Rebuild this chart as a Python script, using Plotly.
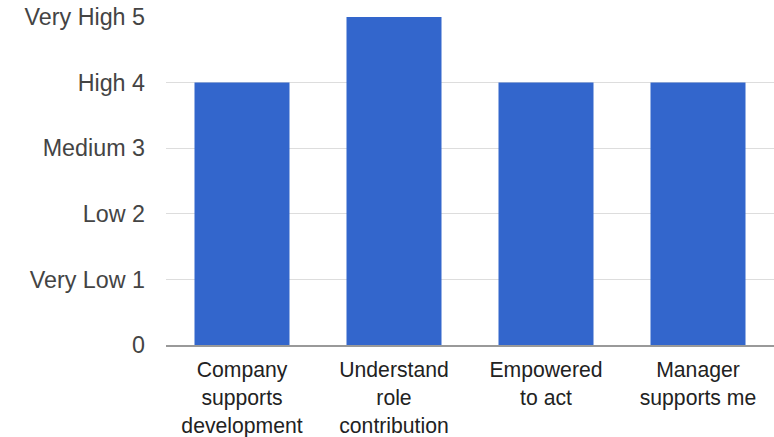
import plotly.graph_objects as go

# Survey questions and their average rating
categories = [
    "Company<br>supports<br>development",
    "Understand<br>role<br>contribution",
    "Empowered<br>to act",
    "Manager<br>supports me",
]
ratings = [4, 5, 4, 4]

# Rating scale shown on the value axis
scale_values = [0, 1, 2, 3, 4, 5]
scale_labels = ["0", "Very Low 1", "Low 2", "Medium 3", "High 4", "Very High 5"]

font_family = "Liberation Sans, Arial, sans-serif"

fig = go.Figure(
    go.Bar(
        x=categories,
        y=ratings,
        marker=dict(color="#3366CC", line=dict(width=0)),
        hoverinfo="x+y",
    )
)

fig.update_layout(
    width=774,
    height=437,
    margin=dict(l=166, r=0, t=17, b=92),
    paper_bgcolor="white",
    plot_bgcolor="white",
    bargap=0.375,
    showlegend=False,
    font=dict(family=font_family, size=21, color="#333333"),
)

fig.update_xaxes(
    showgrid=False,
    showline=True,
    linecolor="#999999",
    linewidth=2,
    ticks="",
    tickfont=dict(size=21.2, color="#222222"),
    ticklabelstandoff=5,
    fixedrange=True,
)

fig.update_yaxes(
    range=[0, 5],
    tickvals=scale_values,
    ticktext=scale_labels,
    showgrid=True,
    gridcolor="#dddddd",
    gridwidth=1,
    zeroline=False,
    showline=False,
    ticks="",
    tickfont=dict(size=23.3, color="#444444"),
    ticklabelstandoff=20,
    fixedrange=True,
)

fig.write_html("out.html")
